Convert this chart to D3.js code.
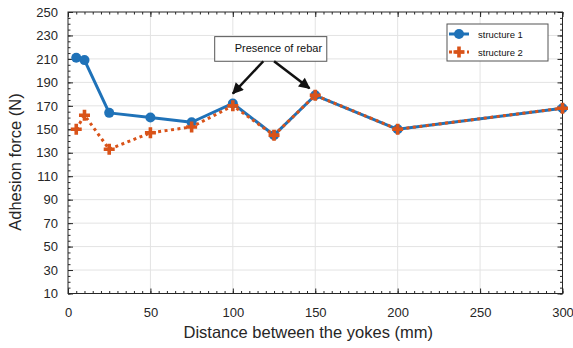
<!DOCTYPE html>
<html>
<head>
<meta charset="utf-8">
<script src="https://cdn.jsdelivr.net/npm/d3@7"></script>
<style>
  body { margin: 0; background: #fff; }
  svg { display: block; font-family: "Liberation Sans", Arial, sans-serif; }
</style>
</head>
<body>
<svg id="chart" width="573" height="348"></svg>
<script>
// data
var distances = [5, 10, 25, 50, 75, 100, 125, 150, 200, 300];
var structure1 = [211, 209, 164, 160, 156, 172, 145, 179, 150, 168];
var structure2 = [150, 162, 133, 147, 152, 170, 145, 179, 150, 168];
var seriesNames = ["structure 1", "structure 2"];
var xTicks = [0, 50, 100, 150, 200, 250, 300];
var yTicks = [10, 30, 50, 70, 90, 110, 130, 150, 170, 190, 210, 230, 250];

// annotation anchors in data units
var noteText = "Presence of rebar";
var noteBox = {x0: 89, x1: 157, y0: 208, y1: 229};
var noteTails = [[118.5, 208], [125, 208]];
var noteTips = [[100, 180.5], [146.5, 185]];

var blue = "#1f72b8", orange = "#d95319", ink = "#262626";

// note: "top" is taken by window.top, so use other names
var plotL = 68, plotR = 562.5, plotT = 12, plotB = 293.5;

var x = d3.scaleLinear().domain([0, 300]).range([plotL, plotR]);
var y = d3.scaleLinear().domain([10, 250]).range([plotB, plotT]);

var svg = d3.select("#chart");

//grid
svg.append("g").selectAll("line")
  .data(xTicks.slice(1, -1))
  .enter().append("line")
  .attr("x1", function(d){ return x(d); }).attr("x2", function(d){ return x(d); })
  .attr("y1", plotT).attr("y2", plotB)
  .attr("stroke", "#e3e3e3").attr("stroke-width", 1);
svg.append("g").selectAll("line")
  .data(yTicks.slice(1, -1))
  .enter().append("line")
  .attr("y1", function(d){ return y(d); }).attr("y2", function(d){ return y(d); })
  .attr("x1", plotL).attr("x2", plotR)
  .attr("stroke", "#e3e3e3").attr("stroke-width", 1);

// axes, ticks pointing inward
function styleAxis(g){
  g.select(".domain").remove();
  g.selectAll("line").attr("stroke", ink);
  g.selectAll("text").attr("fill", ink).style("font-size", "13px");
}
var xMinor = d3.range(0, 301, 5), yMinor = d3.range(10, 251, 5);

svg.append("g").attr("transform", "translate(0," + plotB + ")")
  .call(d3.axisBottom(x).tickValues(xMinor).tickSize(-2.5).tickFormat(""))
  .call(styleAxis);
svg.append("g").attr("transform", "translate(0," + plotB + ")")
  .call(d3.axisBottom(x).tickValues(xTicks).tickSize(-5).tickPadding(14).tickFormat(d3.format("d")))
  .call(styleAxis);
svg.append("g").attr("transform", "translate(0," + plotT + ")")
  .call(d3.axisTop(x).tickValues(xMinor).tickSize(-2.5).tickFormat(""))
  .call(styleAxis);
svg.append("g").attr("transform", "translate(0," + plotT + ")")
  .call(d3.axisTop(x).tickValues(xTicks).tickSize(-5).tickFormat(""))
  .call(styleAxis);
svg.append("g").attr("transform", "translate(" + plotL + ",0)")
  .call(d3.axisLeft(y).tickValues(yMinor).tickSize(-2.5).tickFormat(""))
  .call(styleAxis);
svg.append("g").attr("transform", "translate(" + plotL + ",0)")
  .call(d3.axisLeft(y).tickValues(yTicks).tickSize(-5).tickPadding(10).tickFormat(d3.format("d")))
  .call(styleAxis);
svg.append("g").attr("transform", "translate(" + plotR + ",0)")
  .call(d3.axisRight(y).tickValues(yMinor).tickSize(-2.5).tickFormat(""))
  .call(styleAxis);
svg.append("g").attr("transform", "translate(" + plotR + ",0)")
  .call(d3.axisRight(y).tickValues(yTicks).tickSize(-5).tickFormat(""))
  .call(styleAxis);

svg.append("rect")
  .attr("x", plotL).attr("y", plotT)
  .attr("width", plotR - plotL).attr("height", plotB - plotT)
  .attr("fill", "none").attr("stroke", ink).attr("stroke-width", 1);

// axis titles
svg.append("text")
  .attr("x", (plotL + plotR) / 2 - 7).attr("y", 338)
  .attr("text-anchor", "middle").attr("fill", ink)
  .style("font-size", "16.5px")
  .text("Distance between the yokes (mm)");
svg.append("text")
  .attr("transform", "translate(21," + 162 + ") rotate(-90)")
  .attr("text-anchor", "middle").attr("fill", ink)
  .style("font-size", "16.5px")
  .text("Adhesion force (N)");

// series
var line = d3.line()
  .x(function(d){ return x(d[0]); })
  .y(function(d){ return y(d[1]); });

var pts1 = distances.map(function(d, i){ return [d, structure1[i]]; });
var pts2 = distances.map(function(d, i){ return [d, structure2[i]]; });

svg.append("path").datum(pts1)
  .attr("d", line).attr("fill", "none")
  .attr("stroke", blue).attr("stroke-width", 3).attr("stroke-linejoin", "round");
svg.append("g").selectAll("circle")
  .data(pts1).enter().append("circle")
  .attr("cx", function(d){ return x(d[0]); })
  .attr("cy", function(d){ return y(d[1]); })
  .attr("r", 5).attr("fill", blue);

svg.append("path").datum(pts2)
  .attr("d", line).attr("fill", "none")
  .attr("stroke", orange).attr("stroke-width", 3)
  .attr("stroke-dasharray", "3,3.5");

var plusPath = "M-5.5,-1.8H-1.8V-5.5H1.8V-1.8H5.5V1.8H1.8V5.5H-1.8V1.8H-5.5Z";
svg.append("g").selectAll("path")
  .data(pts2).enter().append("path")
  .attr("transform", function(d){ return "translate(" + x(d[0]) + "," + y(d[1]) + ")"; })
  .attr("d", plusPath).attr("fill", orange);

// annotation
svg.append("defs").append("marker")
  .attr("id", "head").attr("viewBox", "0 0 10 10")
  .attr("refX", 9).attr("refY", 5)
  .attr("markerWidth", 5).attr("markerHeight", 4.5)
  .attr("markerUnits", "strokeWidth")
  .attr("orient", "auto")
  .append("path").attr("d", "M0,0L10,5L0,10Z").attr("fill", "#111");

svg.append("rect")
  .attr("x", x(noteBox.x0)).attr("y", y(noteBox.y1))
  .attr("width", x(noteBox.x1) - x(noteBox.x0))
  .attr("height", y(noteBox.y0) - y(noteBox.y1))
  .attr("fill", "#fff").attr("stroke", "#555").attr("stroke-width", 1);
svg.append("text")
  .attr("x", x(noteBox.x0) + 20).attr("y", y(noteBox.y1) + 15)
  .attr("fill", "#111").style("font-size", "11px")
  .text(noteText);
noteTails.forEach(function(t, i){
  svg.append("line")
    .attr("x1", x(t[0])).attr("y1", y(t[1]))
    .attr("x2", x(noteTips[i][0])).attr("y2", y(noteTips[i][1]))
    .attr("stroke", "#111").attr("stroke-width", 2.5)
    .attr("marker-end", "url(#head)");
});

// legend
var legend = svg.append("g").attr("transform", "translate(447,24)");
legend.append("rect")
  .attr("width", 101).attr("height", 37)
  .attr("fill", "#fff").attr("stroke", "#555").attr("stroke-width", 1);
var rows = legend.selectAll("g.row")
  .data(seriesNames).enter().append("g")
  .attr("class", "row")
  .attr("transform", function(d, i){ return "translate(0," + (10 + i * 18) + ")"; });
rows.append("line")
  .attr("x1", 2).attr("x2", 22)
  .attr("stroke", function(d, i){ return i ? orange : blue; })
  .attr("stroke-width", 3)
  .attr("stroke-dasharray", function(d, i){ return i ? "3,3" : null; });
rows.each(function(d, i){
  var g = d3.select(this);
  if (i == 0) g.append("circle").attr("cx", 12).attr("r", 5).attr("fill", blue);
  else g.append("path").attr("transform", "translate(12,0)").attr("d", plusPath).attr("fill", orange);
});
rows.append("text")
  .attr("x", 31).attr("y", 3.5)
  .attr("fill", "#111").style("font-size", "9.5px")
  .text(function(d){ return d; });
</script>
</body>
</html>
